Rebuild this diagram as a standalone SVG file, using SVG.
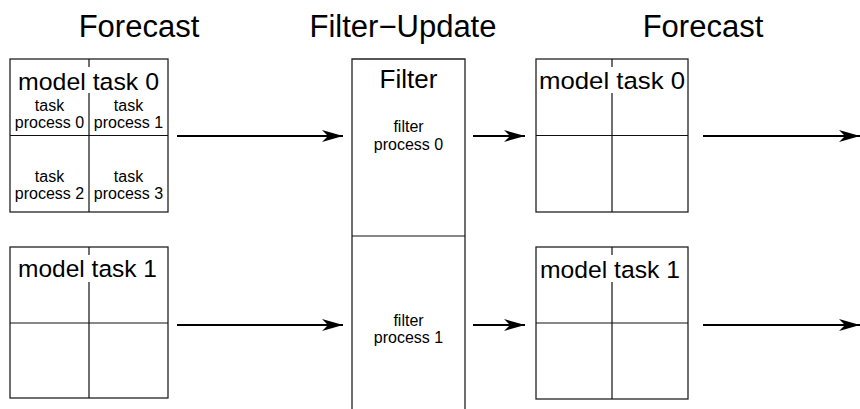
<svg xmlns="http://www.w3.org/2000/svg" width="860" height="409" viewBox="0 0 860 409">
  <style>
    .title { font-family: "Liberation Sans", Arial, sans-serif; font-size: 31px; fill: #000; text-anchor: middle; }
    .big { font-family: "Liberation Sans", Arial, sans-serif; font-size: 24.5px; fill: #000; }
    .mid { text-anchor: middle; }
    .small { font-family: "Liberation Sans", Arial, sans-serif; font-size: 16px; fill: #000; text-anchor: middle; }
    .frame { fill: #fff; stroke: #222; stroke-width: 1.3; }
    .grid { fill: none; stroke: #111; stroke-width: 1.2; }
    .conn { fill: none; stroke: #000; stroke-width: 2.2; }
  </style>
  <defs>
    <marker id="arrow" markerUnits="userSpaceOnUse" markerWidth="24" markerHeight="14" viewBox="-22 -7 24 14" refX="0" refY="0" orient="auto">
      <path d="M0,0 L-21,-6 L-15,0 L-21,6 Z" fill="#000"/>
    </marker>
  </defs>

  <rect width="860" height="409" fill="#fff"/>

  <!-- column headings -->
  <g id="headings">
    <text class="title" x="139" y="37">Forecast</text>
    <text class="title" x="403" y="37">Filter−Update</text>
    <text class="title" x="703" y="37">Forecast</text>
  </g>

  <!-- model task 0 (forecast, left) -->
  <g id="model-task-0-left">
    <rect class="frame" x="10" y="59" width="158" height="153"/>
    <path class="grid" d="M89,59 V67 M89,93 V212 M10,135.5 H168"/>
    <text class="big" x="18" y="90" textLength="141" lengthAdjust="spacingAndGlyphs">model task 0</text>
    <text class="small" x="49.5" y="110.5">task</text>
    <text class="small" x="49.5" y="127.5">process 0</text>
    <text class="small" x="128.5" y="110.5">task</text>
    <text class="small" x="128.5" y="127.5">process 1</text>
    <text class="small" x="49.5" y="181.5">task</text>
    <text class="small" x="49.5" y="198.5">process 2</text>
    <text class="small" x="128.5" y="181.5">task</text>
    <text class="small" x="128.5" y="198.5">process 3</text>
  </g>

  <!-- model task 1 (forecast, left) -->
  <g id="model-task-1-left">
    <rect class="frame" x="10" y="247" width="158" height="151"/>
    <path class="grid" d="M89,247 V255 M89,282 V398 M10,323 H168"/>
    <text class="big" x="18" y="277" textLength="139" lengthAdjust="spacingAndGlyphs">model task 1</text>
  </g>

  <!-- filter -->
  <g id="filter">
    <path class="frame" d="M352,409 V59 H465 V409"/>
    <path class="grid" d="M352,236 H465"/>
    <text class="big mid" x="408.5" y="88" style="font-size:26px">Filter</text>
    <text class="small" x="408.5" y="132">filter</text>
    <text class="small" x="408.5" y="150">process 0</text>
    <text class="small" x="408.5" y="326">filter</text>
    <text class="small" x="408.5" y="343">process 1</text>
  </g>

  <!-- model task 0 (forecast, right) -->
  <g id="model-task-0-right">
    <rect class="frame" x="536" y="59" width="152" height="153"/>
    <path class="grid" d="M612,59 V67 M612,93 V212 M536,135.5 H688"/>
    <text class="big" x="539" y="89" textLength="146" lengthAdjust="spacingAndGlyphs">model task 0</text>
  </g>

  <!-- model task 1 (forecast, right) -->
  <g id="model-task-1-right">
    <rect class="frame" x="536" y="247" width="152" height="152"/>
    <path class="grid" d="M612,247 V255 M612,282 V399 M536,323 H688"/>
    <text class="big" x="540" y="278" textLength="140" lengthAdjust="spacingAndGlyphs">model task 1</text>
  </g>

  <!-- connectors -->
  <g id="connectors">
    <path class="conn" d="M177,136 H343" marker-end="url(#arrow)"/>
    <path class="conn" d="M473,136 H525" marker-end="url(#arrow)"/>
    <path class="conn" d="M703,136 H860" marker-end="url(#arrow)"/>
    <path class="conn" d="M177,325 H343" marker-end="url(#arrow)"/>
    <path class="conn" d="M473,325 H525" marker-end="url(#arrow)"/>
    <path class="conn" d="M703,325 H860" marker-end="url(#arrow)"/>
  </g>
</svg>
